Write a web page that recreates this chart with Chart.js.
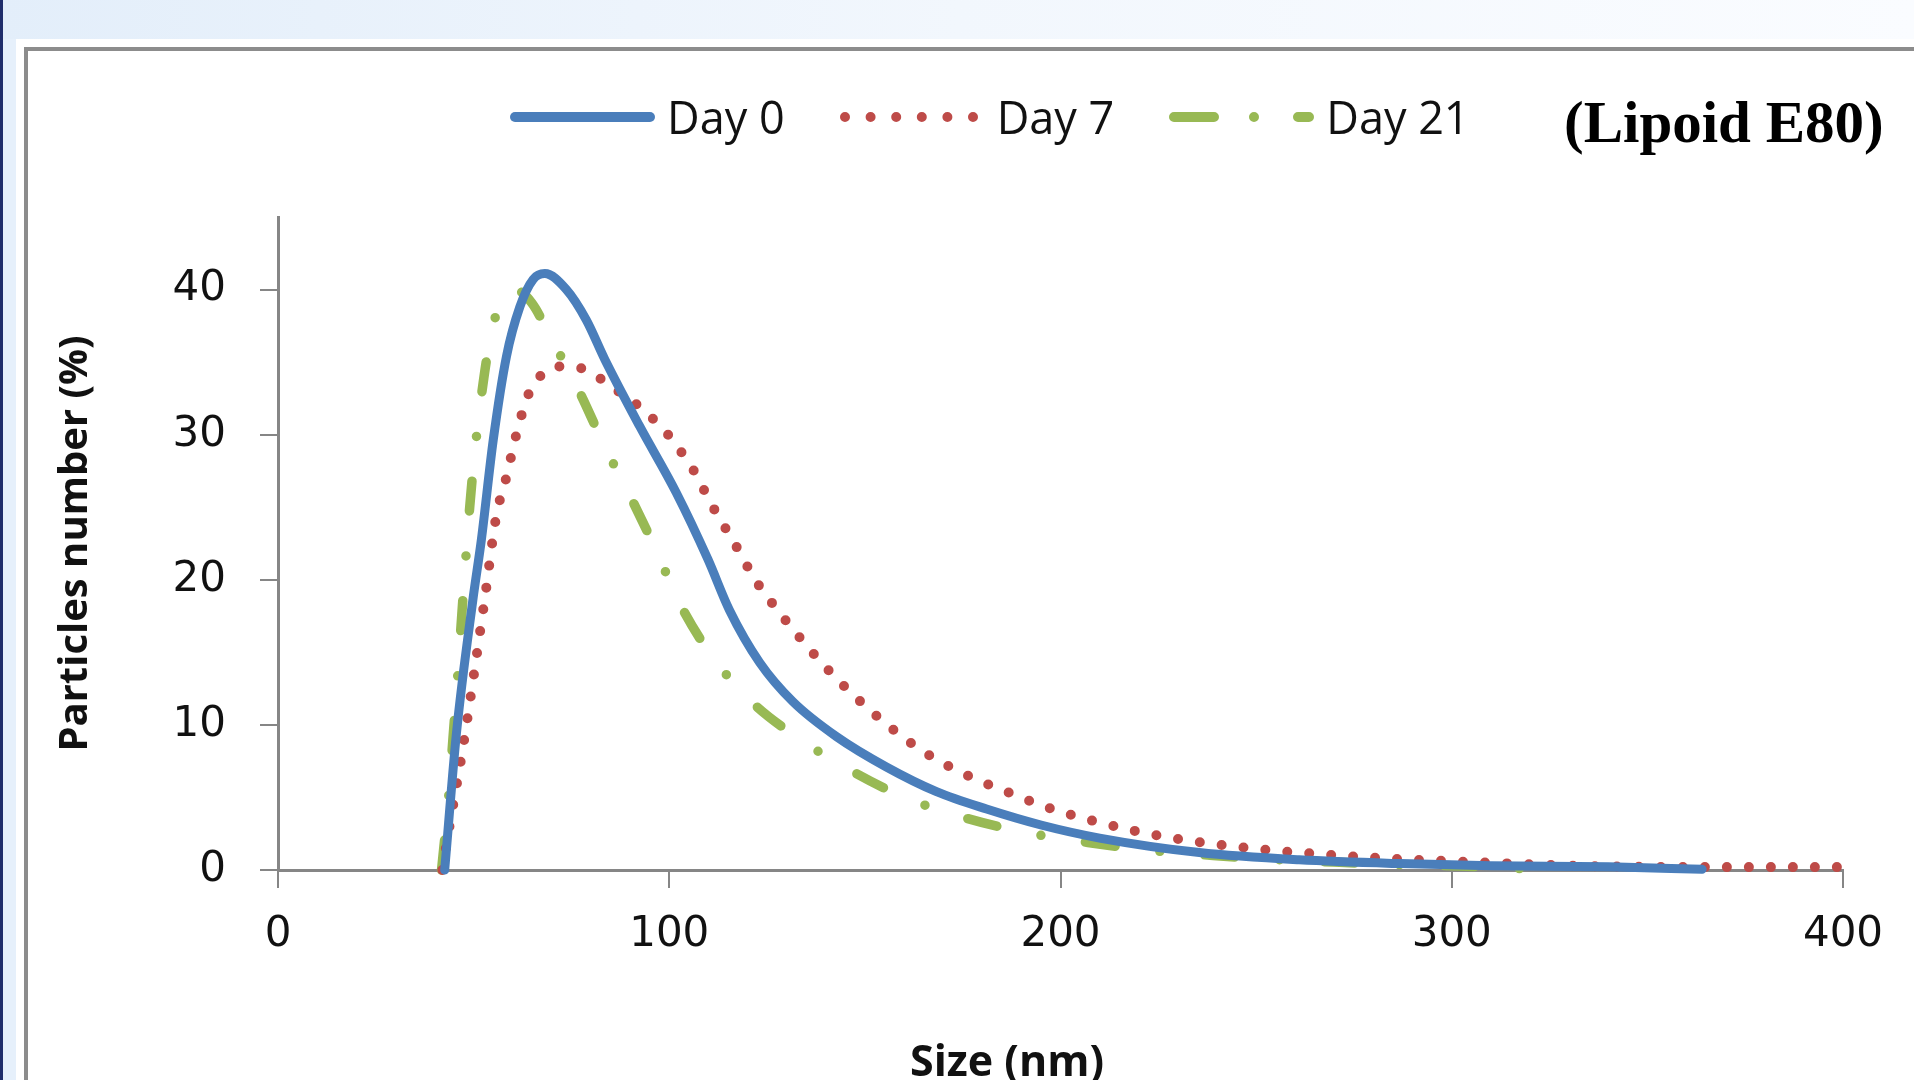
<!DOCTYPE html>
<html>
<head>
<meta charset="utf-8">
<title>Particles number vs size - Lipoid E80</title>
<script src="https://cdn.jsdelivr.net/npm/chart.js@4.4.0/dist/chart.umd.min.js"></script>
<style>
  html, body { margin: 0; padding: 0; }
  body { width: 1914px; height: 1080px; overflow: hidden; position: relative; background: #e6f0fb; font-family: "Open Sans", sans-serif; }
  .band { position: absolute; left: 0; top: 0; width: 1914px; height: 39px; background: linear-gradient(to right, #e3eefa, #f2f7fd 50%, #fafcff); }
  .edge { position: absolute; left: 0; top: 0; width: 3px; height: 1080px; background: #1f2d6b; }
  .sheet { position: absolute; left: 16px; top: 39px; right: 0; bottom: 0; background: #fff; }
  .frame { position: absolute; left: 24px; top: 47px; width: 2000px; height: 1200px; border: 4px solid #8c8c8c; box-sizing: border-box; }
  #chart { position: absolute; left: 0; top: 0; }
  #legend { position: absolute; left: 510px; top: 93px; height: 48px; display: flex; align-items: center; }
  .item { display: flex; align-items: center; margin-right: 55px; }
  .item svg { display: block; margin-right: 12px; }
  .item span { font-size: 45px; color: #111; line-height: 48px; }
  #tag { position: absolute; left: 1564px; top: 90px; font-family: "Liberation Serif", serif; font-weight: bold; font-size: 59px; line-height: 64px; color: #000; }
  #xtitle { position: absolute; left: 857px; width: 300px; top: 1032px; text-align: center; font-weight: bold; font-size: 43px; line-height: 56px; color: #111; }
</style>
</head>
<body>
<div class="band"></div>
<div class="edge"></div>
<div class="sheet"></div>
<div class="frame"></div>
<canvas id="chart" width="1914" height="1080"></canvas>
<div id="legend"></div>
<div id="tag">(Lipoid E80)</div>
<div id="xtitle">Size (nm)</div>
<script>
// values (size in nm, particles number in %)
const day0Size = [42.6, 45.6, 49.8, 52, 55, 58.4, 61.8, 65.2, 68.2, 73.7, 78.8, 83.5, 92.4, 101.8, 109.9, 115.4, 123.1, 131.6, 142.7, 155.5, 168.3, 181.1, 195, 210, 235.5, 261, 286.7, 310, 340, 364];
const day0Number = [0, 9.4, 18.6, 22.8, 29.6, 35.4, 38.8, 40.7, 41.1, 40.0, 37.9, 35.2, 30.6, 26.0, 21.4, 17.9, 14.3, 11.6, 9.2, 7.1, 5.4, 4.2, 3.1, 2.2, 1.2, 0.7, 0.44, 0.3, 0.22, 0.05];

const day7Size = [42, 43.7, 47.3, 52.8, 55.8, 58.4, 60.9, 63.9, 66.9, 71.6, 77.1, 82.2, 86.9, 91.6, 95.8, 99.7, 103.1, 106.1, 111.2, 116.7, 122.2, 125.7, 132.5, 139.9, 147.7, 156.2, 165.3, 175.5, 186.2, 196.8, 208.1, 219.4, 230.9, 242.6, 254.3, 266, 277.7, 289.5, 310, 330, 366, 400];
const day7Number = [0, 2.8, 8.5, 18.6, 24.4, 27.1, 30.0, 32.7, 34.0, 34.7, 34.6, 33.9, 33.0, 32.1, 31.1, 30.0, 28.8, 27.6, 25.0, 22.5, 19.9, 18.6, 16.3, 14.0, 11.9, 9.9, 8.1, 6.6, 5.4, 4.3, 3.4, 2.67, 2.1, 1.68, 1.34, 1.1, 0.88, 0.72, 0.5, 0.3, 0.2, 0.2];

const day21Size = [41.8, 43.6, 44.7, 45.8, 46.9, 49, 50.3, 52, 54.3, 57.5, 60.5, 64.8, 70.1, 77.5, 83.3, 90.3, 96.7, 102.6, 110.5, 120.6, 132.9, 146.1, 160.2, 175.5, 190.8, 207, 222.8, 239, 255.2, 271.3, 287.5, 303.7, 319.5];
const day21Number = [0, 5.0, 9.0, 12.9, 17.3, 25.0, 28.8, 32.7, 36.7, 39.5, 40.0, 39.1, 36.5, 32.7, 29.3, 25.6, 22.0, 18.4, 14.9, 11.7, 9.1, 6.9, 5.0, 3.6, 2.6, 1.9, 1.36, 1.0, 0.72, 0.53, 0.37, 0.26, 0.07];

const seriesNames = ['Day 0', 'Day 7', 'Day 21'];
const xTicks = [0, 100, 200, 300, 400];
const yTicks = [0, 10, 20, 30, 40];

function points(xs, ys) {
  return xs.map((x, i) => ({ x: x, y: ys[i] }));
}

const axisGray = '#868686';

const cfg = {
  type: 'line',
  data: {
    datasets: [
      { label: seriesNames[0], data: points(day0Size, day0Number), borderColor: '#4a7ebb', borderWidth: 9, legendDash: [] },
      { label: seriesNames[1], data: points(day7Size, day7Number), borderColor: '#be4b48', borderWidth: 10, borderDash: [0, 22], legendDash: [0, 25.6] },
      { label: seriesNames[2], data: points(day21Size, day21Number), borderColor: '#98b954', borderWidth: 9.5, borderDash: [30, 45, 0, 45], legendDash: [40, 40, 0, 44] }
    ]
  },
  options: {
    responsive: false,
    animation: false,
    devicePixelRatio: 1,
    layout: { padding: { left: 0, right: 71, top: 217, bottom: 0 } },
    plugins: { legend: { display: false }, tooltip: { enabled: false } },
    elements: {
      point: { radius: 0 },
      line: { cubicInterpolationMode: 'monotone', borderCapStyle: 'round', borderJoinStyle: 'round', fill: false }
    },
    datasets: { line: { clip: false } },
    scales: {
      x: {
        type: 'linear', min: 0, max: 400,
        afterFit: s => { s.height = 210; },
        afterBuildTicks: s => { s.ticks = xTicks.map(v => ({ value: v })); },
        ticks: { padding: 22, color: '#111', maxRotation: 0, font: { family: 'DejaVu Sans', size: 42 } },
        grid: { drawOnChartArea: false, drawTicks: true, tickLength: 18, color: axisGray, lineWidth: 2 },
        border: { color: axisGray, width: 3 }
      },
      y: {
        min: 0, max: 45,
        afterFit: s => { s.width = 278; },
        afterBuildTicks: s => { s.ticks = yTicks.map(v => ({ value: v })); },
        ticks: { padding: 34, color: '#111', font: { family: 'DejaVu Sans', size: 42 } },
        grid: { drawOnChartArea: false, drawTicks: true, tickLength: 18, color: axisGray, lineWidth: 2 },
        border: { color: axisGray, width: 3 },
        title: { display: true, text: 'Particles number (%)', color: '#111', font: { family: 'Open Sans', size: 40, weight: 'bold' }, padding: { top: 52, bottom: 0 } }
      }
    }
  }
};

const chart = new Chart(document.getElementById('chart'), cfg);

// html legend, drawn from the datasets
const legend = document.getElementById('legend');
chart.data.datasets.forEach(ds => {
  const item = document.createElement('div');
  item.className = 'item';
  const w = 145;
  const svgNS = 'http://www.w3.org/2000/svg';
  const svg = document.createElementNS(svgNS, 'svg');
  svg.setAttribute('width', w);
  svg.setAttribute('height', 20);
  const line = document.createElementNS(svgNS, 'line');
  line.setAttribute('x1', 5);
  line.setAttribute('x2', w - 5);
  line.setAttribute('y1', 10);
  line.setAttribute('y2', 10);
  line.setAttribute('stroke', ds.borderColor);
  line.setAttribute('stroke-width', 10);
  line.setAttribute('stroke-linecap', 'round');
  if (ds.legendDash.length) line.setAttribute('stroke-dasharray', ds.legendDash.join(' '));
  svg.appendChild(line);
  const txt = document.createElement('span');
  txt.textContent = ds.label;
  item.appendChild(svg);
  item.appendChild(txt);
  legend.appendChild(item);
});
</script>
</body>
</html>
